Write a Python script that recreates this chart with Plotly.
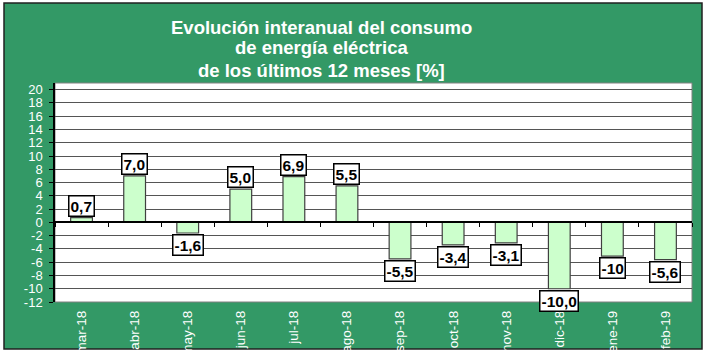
import plotly.graph_objects as go

months = ["mar-18", "abr-18", "may-18", "jun-18", "jul-18", "ago-18",
          "sep-18", "oct-18", "nov-18", "dic-18", "ene-19", "feb-19"]
values = [0.7, 7.0, -1.6, 5.0, 6.9, 5.5, -5.5, -3.4, -3.1, -10.0, -5.1, -5.6]
labels = ["0,7", "7,0", "-1,6", "5,0", "6,9", "5,5",
          "-5,5", "-3,4", "-3,1", "-10,0", "-10", "-5,6"]
y_ticks = list(range(-12, 21, 2))
title_lines = ["Evolución interanual del consumo", "de energía eléctrica",
               "de los últimos 12 meses [%]"]

W, H = 708, 355
L, R, T, B = 55, 16, 83, 53
PW, PH = W - L - R, H - T - B
YMIN, YMAX = -12, 21

def px_x(p):
    return (p - L) / PW

def px_y(p):
    return (H - B - p) / PH

GREEN = "#339966"
FONT = "Liberation Sans, Arial, sans-serif"

fig = go.Figure()
fig.add_trace(go.Bar(
    x=months, y=values,
    marker=dict(color="#ccffcc", line=dict(color="#404040", width=1.2)),
    hoverinfo="skip",
))
fig.add_trace(go.Scatter(
    x=months, y=[0] * len(months), xaxis="x2", mode="markers",
    marker=dict(opacity=0), hoverinfo="skip", showlegend=False,
))

annotations = []
for m, v, t in zip(months, values, labels):
    annotations.append(dict(
        x=m, y=v, xref="x", yref="y", text="<b>%s</b>" % t, showarrow=False,
        yanchor="bottom" if v >= 0 else "top",
        yshift=1 if v >= 0 else -1,
        font=dict(family=FONT, size=15.5, color="black"),
        bgcolor="white", bordercolor="black", borderwidth=1.5, borderpad=1,
    ))
for line, yc in zip(title_lines, [27, 48, 70]):
    annotations.append(dict(
        x=px_x(321), y=px_y(yc), xref="paper", yref="paper",
        text="<b>%s</b>" % line, showarrow=False,
        xanchor="center", yanchor="middle",
        font=dict(family=FONT, size=18.5, color="white"),
    ))

shapes = [
    dict(type="rect", xref="paper", yref="paper", layer="below",
         x0=px_x(4), x1=px_x(702), y0=px_y(349), y1=px_y(3),
         fillcolor=GREEN, line=dict(color="#202020", width=1.5)),
    dict(type="rect", xref="paper", yref="paper", layer="below",
         x0=0, x1=1, y0=0, y1=1,
         fillcolor="white", line=dict(color="#808080", width=1)),
]

fig.update_layout(
    width=W, height=H,
    margin=dict(l=L, r=R, t=T, b=B, autoexpand=False),
    paper_bgcolor="white", plot_bgcolor="white",
    showlegend=False, bargap=0.59,
    font=dict(family=FONT, color="white", size=13),
    xaxis=dict(
        type="category", categoryorder="array", categoryarray=months,
        tickangle=-90, ticks="", showgrid=False, showline=False,
        tickfont=dict(family=FONT, size=13.5, color="white"),
        ticklabelstandoff=5, automargin=False,
        range=[-0.5, len(months) - 0.5],
    ),
    xaxis2=dict(
        type="category", categoryorder="array", categoryarray=months,
        overlaying="x", anchor="free", position=(0 - YMIN) / (YMAX - YMIN),
        showticklabels=False, ticks="outside", ticklen=4, tickwidth=1,
        tickcolor="black", tickson="boundaries", showline=True,
        linecolor="black", linewidth=1.5, showgrid=False,
        range=[-0.5, len(months) - 0.5], automargin=False,
    ),
    yaxis=dict(
        range=[YMIN, YMAX], tickvals=y_ticks, ticktext=[str(v) for v in y_ticks],
        showgrid=True, gridcolor="#555555", gridwidth=1.2,
        zeroline=False, showline=True, linecolor="black", linewidth=1.5,
        ticks="outside", ticklen=4, tickcolor="black",
        tickfont=dict(family=FONT, size=13, color="white"),
        ticklabelstandoff=4, automargin=False,
    ),
    annotations=annotations, shapes=shapes,
)

fig.write_html("out.html", config={"displayModeBar": False},
               post_script="document.body.style.margin='0';")
